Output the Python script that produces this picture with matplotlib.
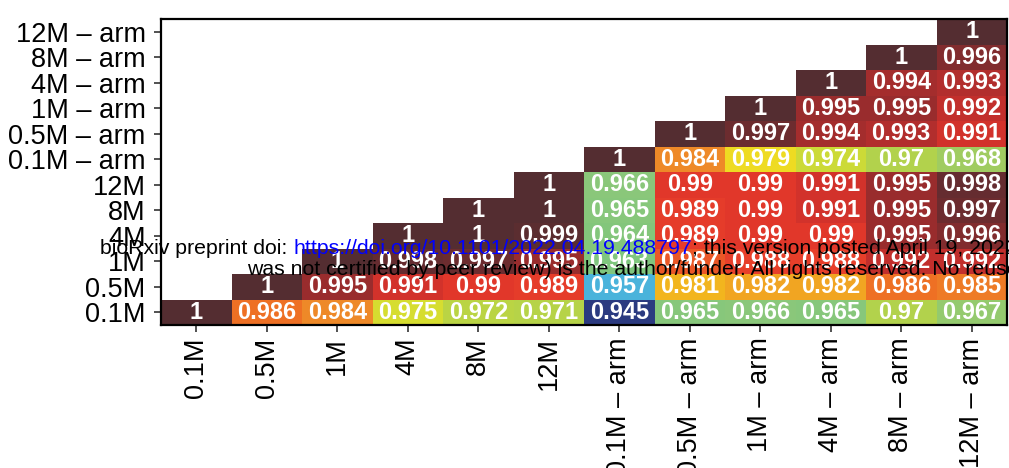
import numpy as np
import matplotlib
matplotlib.use("Agg")
import matplotlib.pyplot as plt
from matplotlib import font_manager
from matplotlib.colors import LinearSegmentedColormap, Normalize

plt.rcParams["font.family"] = ["Liberation Sans", "DejaVu Sans"]

# make sure bold text uses the regular-width Liberation Sans Bold, not the Narrow cut
bold_path = None
for f in font_manager.fontManager.ttflist:
    if f.fname.endswith("LiberationSans-Bold.ttf"):
        bold_path = f.fname
        break
bold_fp = font_manager.FontProperties(fname=bold_path) if bold_path else \
    font_manager.FontProperties(family="DejaVu Sans", weight="bold")

labels = ["0.1M", "0.5M", "1M", "4M", "8M", "12M",
          "0.1M – arm", "0.5M – arm", "1M – arm", "4M – arm", "8M – arm", "12M – arm"]

# row i holds the values for columns i..11 (row 0 is the bottom row)
rows = [
    [1, 0.986, 0.984, 0.975, 0.972, 0.971, 0.945, 0.965, 0.966, 0.965, 0.97, 0.967],
    [1, 0.995, 0.991, 0.99, 0.989, 0.957, 0.981, 0.982, 0.982, 0.986, 0.985],
    [1, 0.998, 0.997, 0.995, 0.963, 0.987, 0.988, 0.988, 0.992, 0.992],
    [1, 1, 0.999, 0.964, 0.989, 0.99, 0.99, 0.995, 0.996],
    [1, 1, 0.965, 0.989, 0.99, 0.991, 0.995, 0.997],
    [1, 0.966, 0.99, 0.99, 0.991, 0.995, 0.998],
    [1, 0.984, 0.979, 0.974, 0.97, 0.968],
    [1, 0.997, 0.994, 0.993, 0.991],
    [1, 0.995, 0.995, 0.992],
    [1, 0.994, 0.993],
    [1, 0.996],
    [1],
]

# colour anchors (value, colour)
anchors = [
    (0.945, "#2b3a80"), (0.957, "#4ab4dc"), (0.963, "#80c67c"), (0.966, "#8ac77a"),
    (0.968, "#9fcc62"), (0.970, "#b2d24c"), (0.972, "#bad444"), (0.975, "#d6dd30"),
    (0.979, "#eedd22"), (0.981, "#f2b51e"), (0.984, "#ee8a28"), (0.986, "#ee7024"),
    (0.988, "#e7402a"), (0.990, "#e2372a"), (0.991, "#d5322b"), (0.992, "#c22f2c"),
    (0.993, "#b32e2d"), (0.995, "#9a2c2d"), (0.997, "#6e2c2f"), (1.000, "#542d31"),
]
vmin, vmax = 0.945, 1.0
cmap = LinearSegmentedColormap.from_list(
    "corr", [((v - vmin) / (vmax - vmin), c) for v, c in anchors])

n = len(labels)
mat = np.full((n, n), np.nan)
for i, r in enumerate(rows):
    mat[i, i:i + len(r)] = r
mat = np.ma.masked_invalid(mat)

W, H = 1009, 468
fig = plt.figure(figsize=(W / 100, H / 100), dpi=100)
ax = fig.add_axes([161 / W, 1 - 325 / H, (1007 - 161) / W, (325 - 19) / H])

ax.pcolormesh(np.arange(n + 1) - 0.5, np.arange(n + 1) - 0.5, mat,
              cmap=cmap, norm=Normalize(vmin, vmax), shading="flat")
for i, r in enumerate(rows):
    for k, v in enumerate(r):
        ax.text(i + k, i, f"{v:g}", ha="center", va="center",
                color="white", fontproperties=bold_fp, fontsize=17)

ax.set_xlim(-0.5, n - 0.5)
ax.set_ylim(-0.5, n - 0.5)
ax.set_xticks(range(n))
ax.set_yticks(range(n))
ax.set_xticklabels(labels, rotation=90, fontsize=19.5)
ax.set_yticklabels(labels, fontsize=19.5)
ax.tick_params(length=5, width=1.2, color="#333333")
ax.tick_params(axis="x", pad=4)
ax.tick_params(axis="y", pad=6)
for s in ax.spines.values():
    s.set_linewidth(1.6)
    s.set_color("black")

# preprint banner overlay
fs = 15.3
t1 = fig.text(100 / W, 1 - 258 / H, "bioRxiv preprint doi: ", fontsize=fs,
              ha="left", va="bottom", color="black")
t2 = fig.text(0, 0, "https://doi.org/10.1101/2022.04.19.488797", fontsize=fs,
              ha="left", va="bottom", color="blue")
t3 = fig.text(0, 0, "; this version posted April 19, 2022. The copyright holder for this preprint (which",
              fontsize=fs, ha="left", va="bottom", color="black")
fig.canvas.draw()
r = fig.canvas.get_renderer()
b1 = t1.get_window_extent(r)
t2.set_position((b1.x1 / W, b1.y0 / H))
b2 = t2.get_window_extent(r)
t3.set_position((b2.x1 / W, b2.y0 / H))
fig.text(247 / W, 1 - 279 / H,
         "was not certified by peer review) is the author/funder. All rights reserved. No reuse allowed without permission.",
         fontsize=fs, ha="left", va="bottom", color="black")

fig.savefig("out.png", dpi=100)
